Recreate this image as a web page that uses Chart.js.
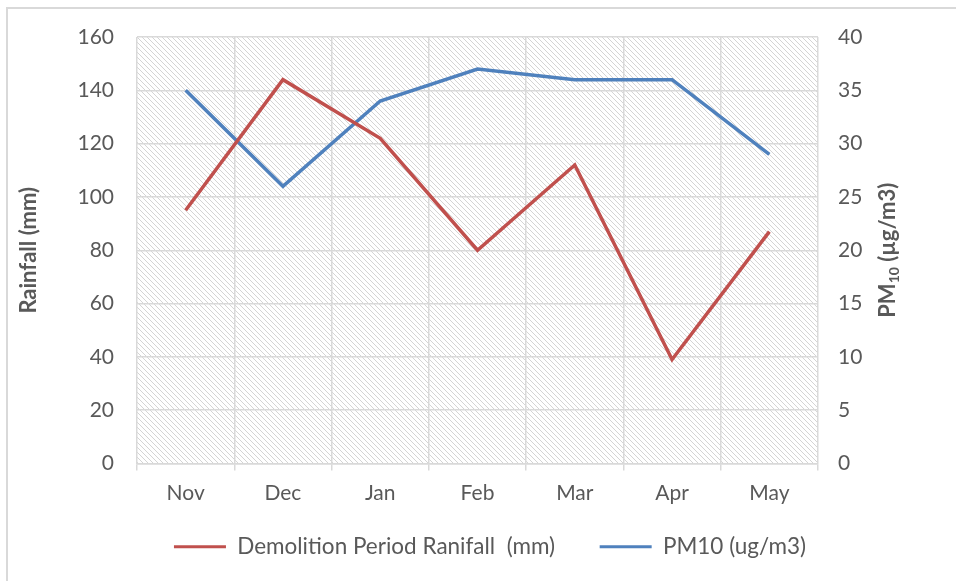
<!DOCTYPE html>
<html>
<head>
<meta charset="utf-8">
<script src="https://cdn.jsdelivr.net/npm/chart.js@4/dist/chart.umd.min.js"></script>
<style>
	html, body { margin: 0; padding: 0; background: #fff; }
	#frame { position: absolute; left: 6px; top: 7px; width: 960px; height: 580px; border: 2px solid #d9d9d9; box-sizing: border-box; }
	#wrap { position: absolute; left: 0; top: 0; width: 956px; height: 581px; }
</style>
</head>
<body>
<div id="frame"></div>
<div id="wrap"><canvas id="main_chart"></canvas></div>
<script>
const months = ["Nov", "Dec", "Jan", "Feb", "Mar", "Apr", "May"];
const rainfall = [95, 144, 122, 80, 112, 39, 87];
const pm10 = [35, 26, 34, 37, 36, 36, 29];
const rainTicks = [0, 20, 40, 60, 80, 100, 120, 140, 160];
const pmTicks = [0, 5, 10, 15, 20, 25, 30, 35, 40];

const fontFamily = 'Lato, "Open Sans", sans-serif';
const textColor = '#595959';

// diagonal hatch used as plot background
function makeHatch() {
	const s = 5;
	const c = document.createElement('canvas');
	c.width = s;
	c.height = s;
	const g = c.getContext('2d');
	g.fillStyle = '#ffffff';
	g.fillRect(0, 0, s, s);
	g.strokeStyle = '#d4d4d4';
	g.lineWidth = 1;
	g.beginPath();
	g.moveTo(-1, -1); g.lineTo(s + 1, s + 1);
	g.moveTo(-s - 1, -1); g.lineTo(1, s + 1);
	g.moveTo(s - 1, -1); g.lineTo(2 * s + 1, s + 1);
	g.stroke();
	return c;
}

const hatchPlugin = {
	id: 'hatch',
	beforeDraw(chart) {
		const { ctx, chartArea } = chart;
		ctx.save();
		ctx.fillStyle = ctx.createPattern(makeHatch(), 'repeat');
		ctx.fillRect(chartArea.left, chartArea.top, chartArea.right - chartArea.left, chartArea.bottom - chartArea.top);
		ctx.restore();
	}
};

const titlePlugin = {
	id: 'axisTitles',
	afterDraw(chart) {
		const { ctx, chartArea } = chart;
		const mid = (chartArea.top + chartArea.bottom) / 2;
		ctx.save();
		ctx.fillStyle = textColor;
		ctx.textBaseline = 'middle';

		// left title
		ctx.save();
		ctx.translate(29, mid);
		ctx.rotate(-Math.PI / 2);
		ctx.textAlign = 'center';
		ctx.font = 'bold 22px ' + fontFamily;
		ctx.fillText('Rainfall (mm)', 0, 0);
		ctx.restore();

		// right title with subscript
		ctx.save();
		ctx.translate(888, mid);
		ctx.rotate(-Math.PI / 2);
		ctx.textAlign = 'left';
		const big = 'bold 22px ' + fontFamily;
		const small = 'bold 14px ' + fontFamily;
		ctx.font = big;
		const w1 = ctx.measureText('PM').width;
		const w3 = ctx.measureText(' (µg/m3)').width;
		ctx.font = small;
		const w2 = ctx.measureText('10').width;
		let x = -(w1 + w2 + w3) / 2;
		ctx.font = big;
		ctx.fillText('PM', x, 0);
		x += w1;
		ctx.font = small;
		ctx.fillText('10', x, 6);
		x += w2;
		ctx.font = big;
		ctx.fillText(' (µg/m3)', x, 0);
		ctx.restore();

		ctx.restore();
	}
};

new Chart(document.getElementById('main_chart'), {
	type: 'line',
	data: {
		labels: months,
		datasets: [
			{
				label: 'Demolition Period Ranifall  (mm)',
				data: rainfall,
				borderColor: '#c0504d',
				backgroundColor: '#c0504d',
				borderWidth: 3.5,
				pointRadius: 0,
				tension: 0,
				yAxisID: 'y',
			},
			{
				label: 'PM10 (ug/m3)',
				data: pm10,
				borderColor: '#4f81bd',
				backgroundColor: '#4f81bd',
				borderWidth: 3.5,
				pointRadius: 0,
				tension: 0,
				yAxisID: 'y1',
			}
		]
	},
	plugins: [hatchPlugin, titlePlugin],
	options: {
		responsive: true,
		maintainAspectRatio: false,
		animation: false,
		layout: {
			padding: { top: 37, bottom: 13, left: 24, right: 0 }
		},
		scales: {
			x: {
				offset: true,
				grid: {
					offset: true,
					color: '#d9d9d9',
					lineWidth: 1.5,
					drawTicks: true,
					tickLength: 7,
				},
				border: { color: '#d9d9d9', width: 1.5 },
				ticks: {
					color: textColor,
					font: { size: 21, family: fontFamily },
					padding: 10,
					maxRotation: 0,
				},
				afterFit(scale) { scale.height = 62; },
			},
			y: {
				position: 'left',
				min: 0,
				max: 160,
				afterBuildTicks(scale) { scale.ticks = rainTicks.map(v => ({ value: v })); },
				grid: {
					color: '#d9d9d9',
					lineWidth: 1.5,
					drawTicks: false,
				},
				border: { display: false },
				ticks: {
					color: textColor,
					font: { size: 21, family: fontFamily },
					padding: 23,
				},
				afterFit(scale) { scale.width = 113; },
			},
			y1: {
				position: 'right',
				min: 0,
				max: 40,
				afterBuildTicks(scale) { scale.ticks = pmTicks.map(v => ({ value: v })); },
				grid: { display: false, drawTicks: false },
				border: { display: false },
				ticks: {
					color: textColor,
					font: { size: 21, family: fontFamily },
					padding: 20,
				},
				afterFit(scale) { scale.width = 138; },
			}
		},
		plugins: {
			legend: {
				position: 'bottom',
				labels: {
					boxWidth: 52,
					boxHeight: 3,
					color: textColor,
					font: { size: 22.5, family: fontFamily },
					padding: 10,
					generateLabels(chart) {
						const items = Chart.defaults.plugins.legend.labels.generateLabels(chart);
						items.forEach(it => { it.lineWidth = 0; });
						// extra gap after the first entry
						items[0].text += '      ';
						return items;
					}
				}
			},
			tooltip: { enabled: false },
		}
	}
});
</script>
</body>
</html>
